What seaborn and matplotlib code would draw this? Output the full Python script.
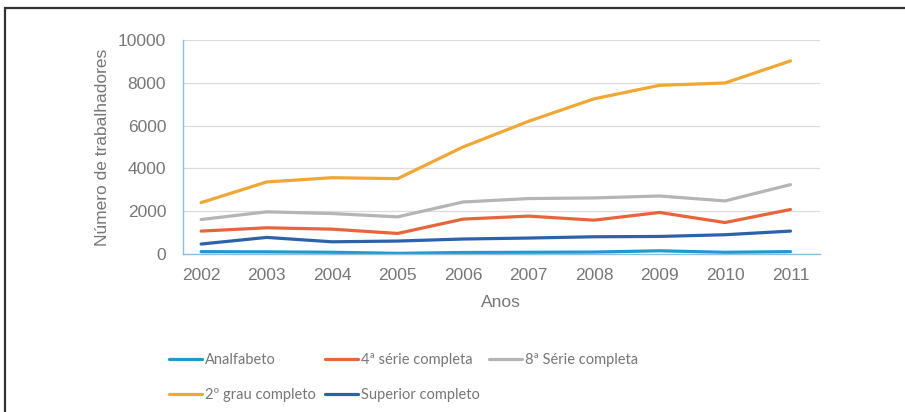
import matplotlib
matplotlib.use("Agg")
from matplotlib import pyplot as plt
from matplotlib.patches import Rectangle
import pandas as pd
import seaborn as sns

anos = [2002, 2003, 2004, 2005, 2006, 2007, 2008, 2009, 2010, 2011]
analfabeto = [110, 100, 80, 30, 70, 80, 90, 150, 80, 110]
quarta_serie = [1070, 1225, 1160, 960, 1630, 1770, 1580, 1940, 1470, 2080]
oitava_serie = [1610, 1970, 1890, 1735, 2430, 2590, 2620, 2710, 2480, 3240]
segundo_grau = [2400, 3365, 3565, 3520, 5000, 6200, 7250, 7880, 7990, 9020]
superior = [465, 775, 570, 605, 700, 745, 805, 820, 900, 1070]

series = ["Analfabeto", "4ª série completa", "8ª Série completa",
          "2º grau completo", "Superior completo"]
cores = ["#1f9ad0", "#e7653b", "#b5b5b5", "#f0a733", "#2b62aa"]

df = pd.DataFrame({
    "Anos": anos * 5,
    "valor": analfabeto + quarta_serie + oitava_serie + segundo_grau + superior,
    "serie": [s for s in series for _ in anos],
})

sns.set_style("white")
plt.rcParams["font.family"] = ["Liberation Sans", "DejaVu Sans"]

fig = plt.figure(figsize=(9.05, 4.12), dpi=100)
ax = fig.add_axes([0.202, 0.3835, 0.704, 0.5195])

sns.lineplot(data=df, x="Anos", y="valor", hue="serie", hue_order=series,
             palette=cores, linewidth=2.3, ax=ax, legend=False)

texto = "#777777"
ax.set_xlim(2001.72, 2011.45)
ax.set_ylim(0, 10000)
ax.set_xticks(anos)
ax.set_yticks([0, 2000, 4000, 6000, 8000, 10000])
ax.tick_params(axis="both", labelsize=12.5, colors=texto, length=0)
ax.tick_params(axis="x", pad=10)
ax.tick_params(axis="y", pad=12)
ax.yaxis.grid(True, color="#dcdcdc", linewidth=0.9)
ax.set_axisbelow(True)
for lado in ["top", "right"]:
    ax.spines[lado].set_visible(False)
for lado in ["left", "bottom"]:
    ax.spines[lado].set_color("#8fbfdf")
    ax.spines[lado].set_linewidth(1.0)
ax.set_xlabel("Anos", fontsize=12.5, color=texto, labelpad=9)
ax.set_ylabel("Número de trabalhadores", fontsize=12.5, color=texto, labelpad=6)

# legenda em 3 colunas, preenchida por linha
handles = [plt.Line2D([], [], color=c, linewidth=2.3) for c in cores]
ordem = [0, 3, 1, 4, 2]
leg = fig.legend([handles[i] for i in ordem], [series[i] for i in ordem],
                 ncol=3, loc="upper left", bbox_to_anchor=(0.172, 0.175),
                 frameon=False, handlelength=2.3, handletextpad=0.2,
                 columnspacing=0.6, labelspacing=1.45,
                 prop={"family": ["Lato", "DejaVu Sans"], "size": 10.5})
for t in leg.get_texts():
    t.set_color(texto)

fig.patches.append(Rectangle((4.5 / 905, -0.05), 1.1, 1.05 - 7.5 / 412,
                             transform=fig.transFigure, fill=False,
                             edgecolor="#333333", linewidth=1.6))

fig.savefig("out.png", dpi=100)
